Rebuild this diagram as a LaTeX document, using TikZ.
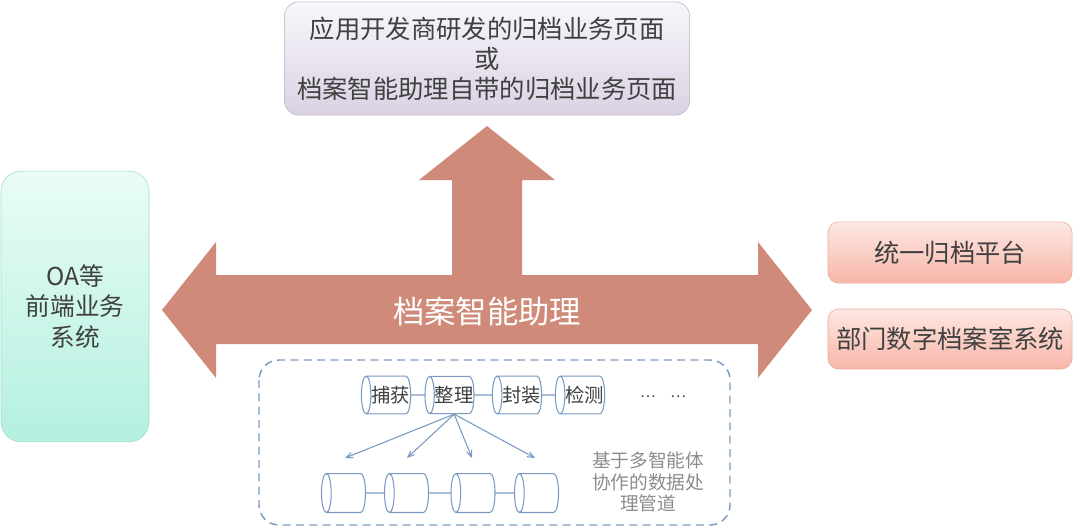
\documentclass[tikz,border=0pt]{standalone}
\usepackage{fontspec}
\setmainfont{Noto Sans CJK SC}
\usetikzlibrary{arrows,shapes,positioning,calc}
\definecolor{arrowred}{HTML}{CF8A7A}
\definecolor{pipeblue}{HTML}{7A9AC2}
\definecolor{textgray}{HTML}{404040}
\definecolor{notegray}{HTML}{8C8C8C}
\definecolor{lilactop}{HTML}{F8F6FA}
\definecolor{lilacbot}{HTML}{DAD2E4}
\definecolor{lilacline}{HTML}{B8B0C0}
\definecolor{minttop}{HTML}{EAFCF7}
\definecolor{mintbot}{HTML}{B3F0DF}
\definecolor{mintline}{HTML}{A3D9CB}
\definecolor{salmontop}{HTML}{FDE8E3}
\definecolor{salmonbot}{HTML}{F7B6A8}
\definecolor{salmonline}{HTML}{E9A898}

\begin{document}
\begin{tikzpicture}[
  x=0.75pt, y=-0.75pt,
  box options/.style = {rounded corners=#1, align=center, text=textgray, inner sep=0pt},
  stage options/.style = {cylinder, shape border rotate=180, aspect=0.25,
    anchor=shape center, draw=pipeblue, fill=white, line width=0.8pt, inner xsep=0pt,
    text=textgray, font=\fontsize{14.5}{16}\selectfont},
  link options/.style = {draw=pipeblue, line width=0.8pt},
  flow options/.style = {draw=pipeblue, line width=0.8pt, ->, >=angle 45},
  ]
  \useasboundingbox (0,0) rectangle (1080,528);

  % big arrow
  \fill[arrowred] (162,310) -- (216,242) -- (216,275) -- (452,275) -- (452,180)
    -- (419,180) -- (487,126) -- (555,180) -- (522,180) -- (522,275)
    -- (758,275) -- (758,242) -- (812,310) -- (758,378) -- (758,344)
    -- (216,344) -- (216,378) -- cycle;
  \node[text=white, font=\fontsize{23.5}{26}\selectfont] (assistant) at (487,312) {档案智能助理};

  \node[box options=11pt, draw=lilacline, top color=lilactop, bottom color=lilacbot,
    minimum width=304pt, minimum height=85pt,
    font=\fontsize{19}{22.5}\selectfont] (pages) at (487,58.5)
    {应用开发商研发的归档业务页面\\或\\档案智能助理自带的归档业务页面};

  \node[box options=15pt, draw=mintline, top color=minttop, bottom color=mintbot,
    minimum width=111pt, minimum height=203pt,
    font=\fontsize{18.5}{23}\selectfont] (oa) at (75,306.5)
    {OA等\\前端业务\\系统};

  \node[box options=8pt, draw=salmonline, top color=salmontop, bottom color=salmonbot,
    minimum width=183pt, minimum height=46pt,
    font=\fontsize{19}{22}\selectfont] (platform) at (950,252.5) {统一归档平台};
  \node[box options=8pt, draw=salmonline, top color=salmontop, bottom color=salmonbot,
    minimum width=183pt, minimum height=45pt,
    font=\fontsize{19}{22}\selectfont] (dept) at (950,339) {部门数字档案室系统};

  % pipeline
  \draw[pipeblue, line width=1.1pt, dash pattern=on 6pt off 4pt, rounded corners=15pt]
    (259,360) rectangle (730,525);

  \foreach \name/\x/\txt in {capture/386/捕获, sort/449.5/整理, pack/517/封装, check/580/检测}
    \node[stage options, inner ysep=7.5pt] (\name) at (\x,395) {\txt};
  \draw[link options] (capture) -- (sort);
  \draw[link options] (sort) -- (pack);
  \draw[link options] (pack) -- (check);
  \node[text=textgray, font=\fontsize{11}{13}\selectfont] (more) at (663,397) {…\quad…};

  \foreach \i/\x in {1/343.5, 2/406.5, 3/473, 4/536.5}
    \node[stage options, inner ysep=8.5pt] (store\i) at (\x,493) {\vphantom{理}\hspace*{25pt}};
  \foreach \i/\j in {1/2, 2/3, 3/4}
    \draw[link options] (store\i) -- (store\j);

  \foreach \i/\x in {1/345, 2/407, 3/472, 4/535} {
    \coordinate (t\i) at (\x,458);
    \draw[flow options] (sort.south) -- (t\i);
  }

  \node[text=notegray, align=center, font=\fontsize{14}{16}\selectfont] (note) at (648,482)
    {基于多智能体\\协作的数据处\\理管道};
\end{tikzpicture}
\end{document}
